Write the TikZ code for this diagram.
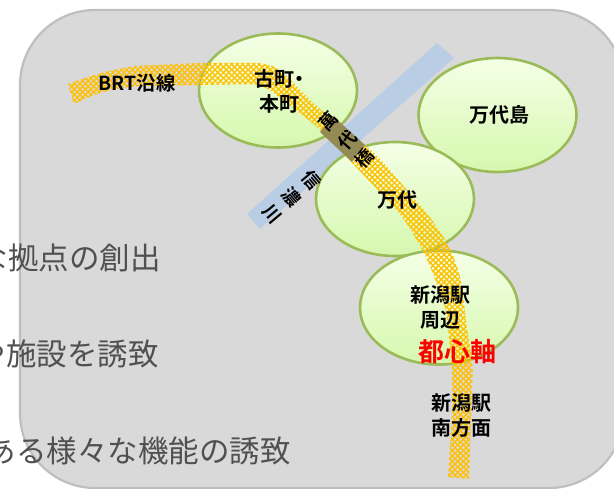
\documentclass[tikz,border=0pt]{standalone}
\usepackage{fontspec}
\setmainfont{Noto Sans CJK JP}
\newfontfamily\jpbold{Noto Sans CJK JP Bold}
\usetikzlibrary{patterns.meta}
\definecolor{boxfill}{HTML}{D9D9D9}
\definecolor{boxline}{HTML}{BFBFBF}
\definecolor{riverblue}{HTML}{B9CDE5}
\definecolor{greenline}{HTML}{9BBB59}
\definecolor{greentop}{HTML}{F4FFE6}
\definecolor{greenbot}{HTML}{D6F8AE}
\definecolor{bandorange}{HTML}{FFC000}
\definecolor{bridgebrown}{HTML}{948A54}
\definecolor{lefttext}{HTML}{505050}
\tikzset{
  districtshape/.style={draw=greenline,line width=2.6pt,top color=greentop,bottom color=greenbot,shape=ellipse},
  hatcha/.style={pattern={Lines[angle=45,distance=3.9pt,line width=1.35pt]},pattern color=bandorange},
  hatchb/.style={pattern={Lines[angle=-45,distance=3.9pt,line width=1.35pt]},pattern color=bandorange},
  lab/.style={font=\jpbold\fontsize{20}{25}\selectfont,align=center,inner sep=0pt,text=black},
  rotlab/.style={font=\jpbold\fontsize{18}{18}\selectfont,inner sep=0pt,text=black},
  leftlab/.style={font=\fontsize{30.5}{36}\selectfont,anchor=base east,inner sep=0pt,text=lefttext},
}
\begin{document}
\begin{tikzpicture}[x=1pt,y=-1pt]
\useasboundingbox (0,0) rectangle (614,489);
\draw[fill=boxfill,draw=boxline,line width=2.2pt,rounded corners=75pt] (20,10) rectangle (624,488);
\node[leftlab] (t1) at (161,270) {な拠点の創出};
\node[leftlab] (t2) at (159,366) {や施設を誘致};
\node[leftlab] (t3) at (291,463) {ある様々な機能の誘致};
\fill[riverblue] (437,43) -- (454,58) -- (260,229) -- (247,214) -- cycle;
\shade[districtshape] (278,90.5) ellipse [x radius=79,y radius=57];
\shade[districtshape] (497.5,115) ellipse [x radius=79,y radius=57];
\shade[districtshape] (395,199) ellipse [x radius=79,y radius=57];
\shade[districtshape] (439,307.5) ellipse [x radius=79,y radius=57];
\def\bandpath{(68,84) [rounded corners=12pt] -- (100,73) -- (133,66) -- (200,63) -- (268,63) -- (283,72) -- (307,97) -- (323,112) -- (375,153) -- (430,217) -- (450,247) -- (461,278) -- (467,330) -- (473,365) -- (471,420) [sharp corners] -- (469,479) -- (448,477) [rounded corners=12pt] -- (452,420) -- (452,365) -- (446,310) -- (435,278) -- (423,250) -- (403,217) -- (360,171) -- (318,127) -- (293,108) -- (262,84) -- (200,85) -- (133,86) -- (100,92) [sharp corners] -- (74,104) -- cycle}
\path[hatcha] \bandpath;
\path[hatchb] \bandpath;
\fill[bridgebrown] (333,116) -- (365,145) -- (352,162) -- (320,132) -- cycle;
\node[lab,font=\jpbold\fontsize{19.3}{24}\selectfont] (brt) at (137,83) {BRT沿線};
\node[lab] (furu) at (279,91.5) {古町\makebox[9pt]{・}\\本町};
\node[lab] (bandaijima) at (499,115) {万代島};
\node[lab] (bandai) at (397,200) {万代};
\node[lab] (niigata) at (440.5,307.5) {新潟駅\\周辺};
\node[lab] (minami) at (461,415.5) {新潟駅\\南方面};
\node[font=\jpbold\fontsize{26}{30}\selectfont,text=red,inner sep=0pt] (toshin) at (457,352) {都心軸};
\node[rotlab,rotate=48] (b1) at (328,121) {萬};
\node[rotlab,rotate=48] (b2) at (347,140) {代};
\node[rotlab,rotate=48] (b3) at (364,158) {橋};
\node[rotlab,rotate=-50] (r1) at (312,180) {信};
\node[rotlab,rotate=-50] (r2) at (292,197) {濃};
\node[rotlab,rotate=-50] (r3) at (272,214) {川};
\end{tikzpicture}
\end{document}
